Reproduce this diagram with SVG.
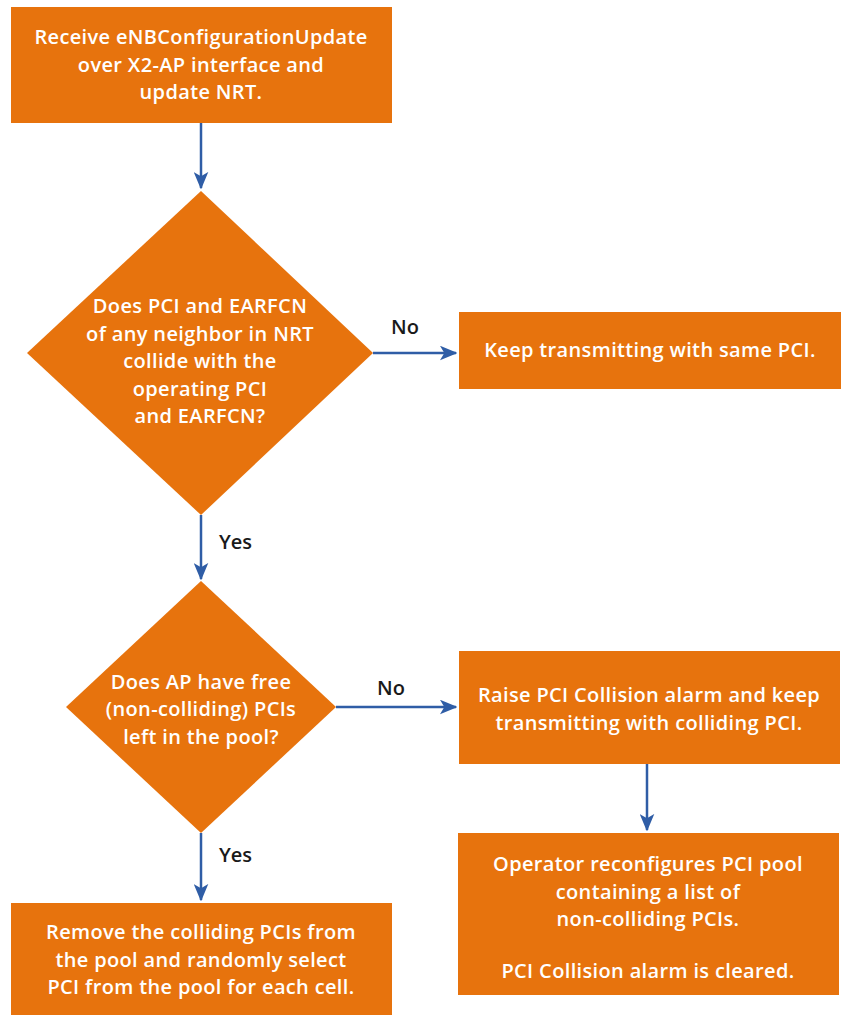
<svg xmlns="http://www.w3.org/2000/svg" width="846" height="1015" viewBox="0 0 846 1015">
<defs>
<style>
.node{fill:#E7730D;}
.t{font-family:"Open Sans","Liberation Sans",sans-serif;font-weight:600;font-size:20px;letter-spacing:0.35px;fill:#FFFFFF;text-anchor:middle;}
.lbl{font-family:"Open Sans","Liberation Sans",sans-serif;font-weight:600;font-size:20px;fill:#1a1a1a;text-anchor:start;}
.edge{stroke:#2F5DA6;stroke-width:2.5;fill:none;marker-end:url(#ah);}
</style>
<marker id="ah" viewBox="0 0 12 10" refX="11" refY="5" markerWidth="7" markerHeight="6" markerUnits="strokeWidth" orient="auto">
<path d="M0,0 L12,5 L0,10 L3,5 Z" fill="#2F5DA6"/>
</marker>
</defs>
<rect width="846" height="1015" fill="#FFFFFF"/>
<g id="connectors">
<line class="edge" x1="201" y1="123" x2="201" y2="188"/>
<line class="edge" x1="373" y1="353" x2="456" y2="353"/>
<line class="edge" x1="201" y1="515" x2="201" y2="579"/>
<line class="edge" x1="336" y1="707" x2="456" y2="707"/>
<line class="edge" x1="647" y1="764" x2="647" y2="830"/>
<line class="edge" x1="201" y1="833" x2="201" y2="900"/>
<text class="lbl" x="391" y="334">No</text>
<text class="lbl" x="219" y="549">Yes</text>
<text class="lbl" x="377" y="695">No</text>
<text class="lbl" x="219" y="862">Yes</text>
</g>
<g id="n1">
<rect class="node" x="11" y="7" width="381" height="116"/>
<text class="t" x="201" y="44">Receive eNBConfigurationUpdate</text>
<text class="t" x="201" y="71.5">over X2-AP interface and</text>
<text class="t" x="201" y="99">update NRT.</text>
</g>
<g id="d1">
<polygon class="node" points="201,191 373,353 201,515 27,353"/>
<text class="t" x="200" y="313">Does PCI and EARFCN</text>
<text class="t" x="200" y="340.5">of any neighbor in NRT</text>
<text class="t" x="200" y="368">collide with the</text>
<text class="t" x="200" y="395.5">operating PCI</text>
<text class="t" x="200" y="423">and EARFCN?</text>
</g>
<g id="n2">
<rect class="node" x="459" y="312" width="382" height="77"/>
<text class="t" x="650" y="357">Keep transmitting with same PCI.</text>
</g>
<g id="d2">
<polygon class="node" points="201,581 336,707 201,833 66,707"/>
<text class="t" x="201" y="688.5">Does AP have free</text>
<text class="t" x="201" y="716">(non-colliding) PCIs</text>
<text class="t" x="201" y="743.5">left in the pool?</text>
</g>
<g id="n3">
<rect class="node" x="459" y="651" width="381" height="113"/>
<text class="t" x="649" y="702">Raise PCI Collision alarm and keep</text>
<text class="t" x="649" y="729.5">transmitting with colliding PCI.</text>
</g>
<g id="n4">
<rect class="node" x="458" y="833" width="381" height="162"/>
<text class="t" x="648" y="871">Operator reconfigures PCI pool</text>
<text class="t" x="648" y="898.5">containing a list of</text>
<text class="t" x="648" y="926">non-colliding PCIs.</text>
<text class="t" x="648" y="978">PCI Collision alarm is cleared.</text>
</g>
<g id="n5">
<rect class="node" x="11" y="903" width="381" height="112"/>
<text class="t" x="201" y="939">Remove the colliding PCIs from</text>
<text class="t" x="201" y="966.5">the pool and randomly select</text>
<text class="t" x="201" y="994">PCI from the pool for each cell.</text>
</g>
</svg>
